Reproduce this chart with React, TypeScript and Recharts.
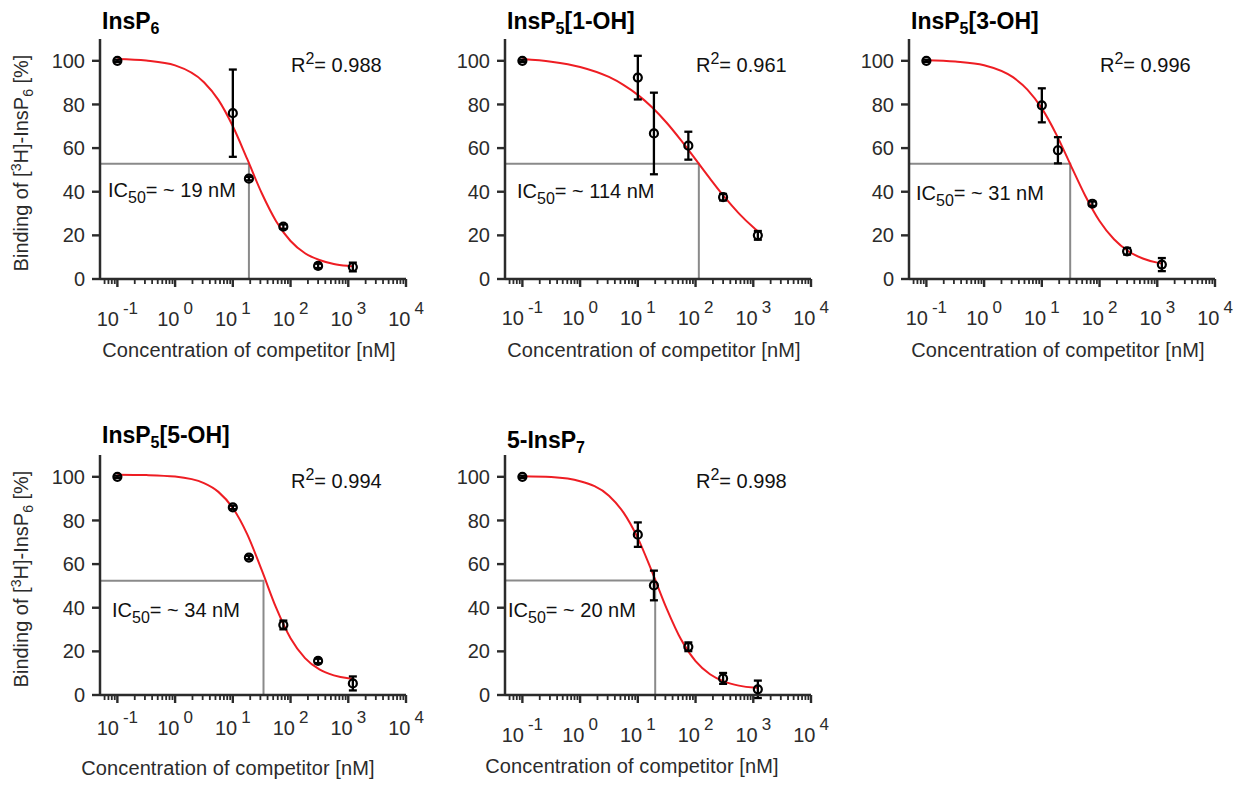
import { ComposedChart, Line, Scatter, ErrorBar, XAxis, YAxis } from "recharts"

// competitor concentrations [nM] (0.1 = no-competitor point)
const conc = [0.1, 10, 19, 75, 300, 1200]
const fitConc = [0.1, 0.316, 1, 3.16, 5.62, 10, 17.8, 31.6, 56.2, 100, 178, 316, 562, 1000, 1200]

const insp6Mean = [100, 76, 46, 24, 6, 5.5]
const insp6Err = [0.5, 20, 0.8, 1, 1, 2]
const insp6Fit = [100.8, 100.1, 97.9, 90.2, 82.1, 70.0, 54.9, 39.4, 26.5, 17.4, 11.8, 8.7, 6.9, 6.0, 5.8]

const oh1Mean = [100, 92.3, 66.7, 61.1, 37.5, 20.0]
const oh1Err = [0.5, 10, 18.7, 6.4, 1.5, 2]
const oh1Fit = [100.8, 99.6, 97.2, 92.6, 89.0, 84.4, 78.6, 71.6, 63.5, 54.8, 46.0, 37.6, 30.1, 23.7, 21.9]

const oh3Mean = [100, 79.6, 59, 34.5, 12.7, 6.6]
const oh3Err = [0.5, 7.8, 6, 1, 1.5, 3]
const oh3Fit = [100.3, 99.7, 98.0, 92.5, 86.8, 78.2, 66.3, 52.2, 38.3, 26.6, 18.2, 12.7, 9.4, 7.5, 7.1]

const oh5Mean = [100, 86, 63, 32.1, 15.6, 5.3]
const oh5Err = [0.5, 0.8, 0.8, 2, 1, 3.2]
const oh5Fit = [101.0, 100.8, 100.1, 97.1, 93.1, 85.7, 73.6, 57.3, 40.0, 26.0, 16.9, 11.7, 9.0, 7.7, 7.5]

const insp7Mean = [100, 73.5, 50.2, 22.1, 7.6, 2.6]
const insp7Err = [0.5, 5.6, 6.8, 2, 2.5, 4]
const insp7Fit = [100.3, 99.9, 98.0, 91.3, 83.7, 71.9, 56.2, 39.6, 25.4, 15.5, 9.5, 6.1, 4.3, 3.4, 3.3]

const titleMain = ["InsP", "InsP", "InsP", "InsP", "5-InsP"]
const titleSub = ["6", "5", "5", "5", "7"]
const titleRest = ["", "[1-OH]", "[3-OH]", "[5-OH]", ""]
const ic50Values = [19, 114, 31, 34, 20]
const halfLevels = [52.8, 52.8, 52.8, 52.4, 52.5]
const r2Values = ["0.988", "0.961", "0.996", "0.994", "0.998"]

const majorTicks = [0.1, 1, 10, 100, 1000, 10000]
const minorSteps = [2, 3, 4, 5, 6, 7, 8, 9]
const yTicks = [0, 20, 40, 60, 80, 100]
const X_MIN = 0.05

const xTicks = [
  0.06, 0.07, 0.08, 0.09,
  ...majorTicks.flatMap((m) => (m < 10000 ? [m, ...minorSteps.map((s) => +(m * s).toPrecision(3))] : [m])),
]

const means = [insp6Mean, oh1Mean, oh3Mean, oh5Mean, insp7Mean]
const errs = [insp6Err, oh1Err, oh3Err, oh5Err, insp7Err]
const fits = [insp6Fit, oh1Fit, oh3Fit, oh5Fit, insp7Fit]

// page position of each plot area + small per-panel text offsets
const layout = [
  { left: 100, top: 39, titleDy: -10, icDx: 8, icDy: 82, tickDy: 47, xTitleDx: 149, xTitleDy: 78, yLabel: true },
  { left: 505, top: 39, titleDy: -10, icDx: 12, icDy: 81, tickDy: 46, xTitleDx: 149, xTitleDy: 78, yLabel: false },
  { left: 909, top: 39, titleDy: -10, icDx: 7, icDy: 79, tickDy: 46, xTitleDx: 149, xTitleDy: 78, yLabel: false },
  { left: 100, top: 455, titleDy: -12, icDx: 12, icDy: 78, tickDy: 40, xTitleDx: 128, xTitleDy: 80, yLabel: true },
  { left: 505, top: 455, titleDy: -7, icDx: 3, icDy: 78, tickDy: 47, xTitleDx: 127, xTitleDy: 78, yLabel: false },
]

const FONT = "'Liberation Sans', Arial, Helvetica, sans-serif"
const AXIS = "#2b2b2b"
const MT = 45
const YW = 100
const PW = 306
const PH = 240
const XH = 90
const MR = 30
const CW = YW + PW + MR
const CH = MT + PH + XH

const makeLogTick = (labelDy: number) => (props: any) => {
  const { x, y, payload } = props
  const v = payload.value
  const major = majorTicks.includes(v)
  const exp = Math.round(Math.log10(v))
  return (
    <g>
      <line x1={x} x2={x} y1={y} y2={y + (major ? 8 : 5)} stroke={AXIS} strokeWidth={major ? 2.4 : 1.8} />
      {major && (
        <text x={x} y={y + labelDy} textAnchor="middle" fontSize={20} fill={AXIS} fontFamily={FONT}>
          10
          <tspan dx={4} dy={-12} fontSize={17}>
            {exp}
          </tspan>
        </text>
      )}
    </g>
  )
}

const OpenCircle = (props: any) => {
  const { cx, cy } = props
  return <circle cx={cx} cy={cy} r={4} fill="none" stroke="#000" strokeWidth={2.2} />
}

function Panel({ i }: { i: number }) {
  const pos = layout[i]
  const points = conc.map((c, k) => ({ x: c, y: means[i][k], err: errs[i][k] }))
  const curve = fitConc.map((c, k) => ({ x: c, y: fits[i][k] }))
  const ic50Line = [
    { x: X_MIN, y: halfLevels[i] },
    { x: ic50Values[i], y: halfLevels[i] },
    { x: ic50Values[i], y: 0 },
  ]
  const px = YW
  const py = MT
  const pb = MT + PH

  return (
    <div style={{ position: "absolute", left: pos.left - YW, top: pos.top - MT, width: CW, height: CH }}>
      <ComposedChart width={CW} height={CH} margin={{ top: MT, right: MR, bottom: 0, left: 0 }}>
        <XAxis
          dataKey="x"
          type="number"
          scale="log"
          domain={[X_MIN, 10000]}
          allowDataOverflow
          ticks={xTicks}
          interval={0}
          height={XH}
          tickSize={0}
          tickMargin={0}
          tickLine={false}
          axisLine={{ stroke: AXIS, strokeWidth: 2.5 }}
          tick={makeLogTick(pos.tickDy)}
        />
        <YAxis
          dataKey="y"
          type="number"
          domain={[0, 110]}
          allowDataOverflow
          ticks={yTicks}
          width={YW}
          tickSize={8}
          tickMargin={7}
          axisLine={{ stroke: AXIS, strokeWidth: 2.5 }}
          tickLine={{ stroke: AXIS, strokeWidth: 2.4 }}
          tick={{ fontSize: 20, fill: AXIS, fontFamily: FONT }}
        />
        <Line
          data={ic50Line}
          dataKey="y"
          type="linear"
          stroke="#8a8a8a"
          strokeWidth={2}
          dot={false}
          activeDot={false}
          isAnimationActive={false}
        />
        <Line
          data={curve}
          dataKey="y"
          type="monotone"
          stroke="#ee1d23"
          strokeWidth={2}
          dot={false}
          activeDot={false}
          isAnimationActive={false}
        />
        <Scatter data={points} dataKey="y" shape={<OpenCircle />} isAnimationActive={false}>
          <ErrorBar dataKey="err" direction="y" width={4} stroke="#000" strokeWidth={2.3} isAnimationActive={false} />
        </Scatter>
      </ComposedChart>

      <svg
        width={CW}
        height={CH}
        style={{ position: "absolute", left: 0, top: 0, pointerEvents: "none", fontFamily: FONT }}
      >
        <text x={px + 2} y={py + pos.titleDy} fontSize={23} fontWeight="bold" fill="#000">
          {titleMain[i]}
          <tspan dy={5} fontSize={16}>
            {titleSub[i]}
          </tspan>
          {titleRest[i] && <tspan dy={-5}>{titleRest[i]}</tspan>}
        </text>

        <text x={px + 191} y={pb - 207} fontSize={20} fill="#111">
          R
          <tspan dy={-8} fontSize={16}>
            2
          </tspan>
          <tspan dy={8}>= {r2Values[i]}</tspan>
        </text>

        <text x={px + pos.icDx} y={pb - pos.icDy} fontSize={20} fill="#111">
          IC
          <tspan dy={6} fontSize={16}>
            50
          </tspan>
          <tspan dy={-6}>= ~ {ic50Values[i]} nM</tspan>
        </text>

        <text
          x={px + pos.xTitleDx}
          y={pb + pos.xTitleDy}
          textAnchor="middle"
          fontSize={20}
          letterSpacing={0.1}
          fill={AXIS}
        >
          Concentration of competitor [nM]
        </text>

        {pos.yLabel && (
          <text
            transform={`translate(${px - 72}, ${py + 124}) rotate(-90)`}
            textAnchor="middle"
            fontSize={20}
            fill={AXIS}
          >
            Binding of [
            <tspan dy={-7} fontSize={14}>
              3
            </tspan>
            <tspan dy={7}>H]-InsP</tspan>
            <tspan dy={5} fontSize={14}>
              6
            </tspan>
            <tspan dy={-5}> [%]</tspan>
          </text>
        )}
      </svg>
    </div>
  )
}

export default function App() {
  return (
    <div
      style={{
        position: "absolute",
        left: 0,
        top: 0,
        width: 1239,
        height: 785,
        background: "#fff",
        fontFamily: FONT,
        overflow: "hidden",
      }}
    >
      {layout.map((_, i) => (
        <Panel key={i} i={i} />
      ))}
    </div>
  )
}
